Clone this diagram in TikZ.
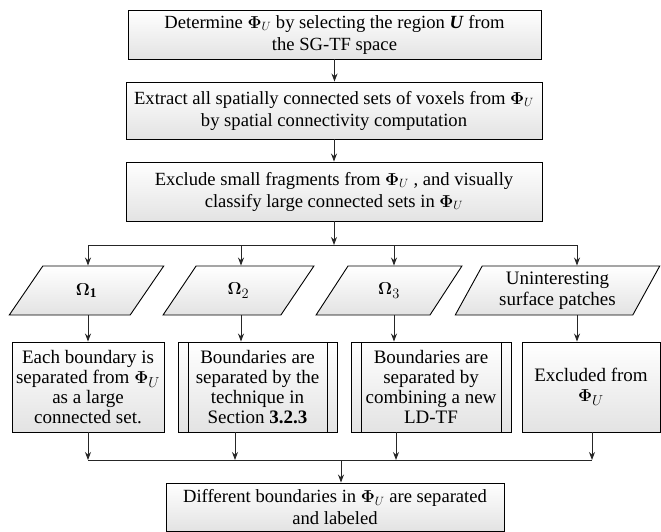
\documentclass[tikz,border=0pt]{standalone}
\usepackage{amsmath}
\usepackage{fontspec}
\setmainfont{Liberation Serif}
\usetikzlibrary{shapes.geometric, arrows.meta}

\tikzset{
    box/.style={rectangle, draw, line width=0.9pt, top color=white, bottom color=gray!22,
        align=center, inner sep=0pt, font=\fontsize{18.6}{22}\selectfont},
    lowbox/.style={box, font=\fontsize{19}{20}\selectfont},
    procbox/.style={lowbox, path picture={
        \draw[-, line width=0.9pt] ([xshift=10pt]path picture bounding box.north west) -- ([xshift=10pt]path picture bounding box.south west);
        \draw[-, line width=0.9pt] ([xshift=-10pt]path picture bounding box.north east) -- ([xshift=-10pt]path picture bounding box.south east);}},
    classbox/.style={trapezium, trapezium left angle=61, trapezium right angle=119, trapezium stretches=true,
        draw, line width=0.9pt, top color=white, bottom color=gray!22, align=center, inner sep=0pt,
        minimum height=49pt, font=\fontsize{19}{21}\selectfont},
    link/.style={line width=0.9pt, black!85}
}
\newcommand{\PhiU}{$\boldsymbol{\Phi}_U$}

\begin{document}
\begin{tikzpicture}[x=1pt, y=-1pt, >={Stealth[length=8pt, width=6pt]}]
    \useasboundingbox (0,0) rectangle (661,532);

    % Top boxes.
    \node[box, minimum width=413pt, minimum height=49pt] (b1) at (334.5,34.5)
        {Determine \PhiU\ by selecting the region \textbf{\textit{U}} from\\ the SG-TF space};
    \node[box, minimum width=416pt, minimum height=57pt] (b2) at (334,110.5)
        {Extract all spatially connected sets of voxels from \PhiU\\ by spatial connectivity computation};
    \node[box, minimum width=416pt, minimum height=59pt] (b3) at (334,191.5)
        {Exclude small fragments from \PhiU\ , and visually\\ classify large connected sets in \PhiU};

    \draw[link, ->] (b1.south) -- (b1.south |- b2.north);
    \draw[link, ->] (b2.south) -- (b2.south |- b3.north);

    % Classes.
    \node[classbox, minimum width=155pt] (o1) at (86.5,290.5) {$\boldsymbol{\Omega}_{\mathbf{1}}$};
    \node[classbox, minimum width=151pt] (o2) at (238.5,290.5) {$\boldsymbol{\Omega}_2$};
    \node[classbox, minimum width=146pt] (o3) at (389,290.5) {$\boldsymbol{\Omega}_3$};
    \node[classbox, minimum width=205pt] (o4) at (557.5,290.5) {Uninteresting\\ surface patches};

    % Branch connections.
    \coordinate (j1) at (334,245);
    \coordinate (i1) at (88,245);
    \coordinate (i2) at (241,245);
    \coordinate (i3) at (394,245);
    \coordinate (i4) at (577,245);
    \draw[link, ->] (b3.south) -- (j1);
    \draw[link] (i1) -- (i4);
    \foreach \n in {1,...,4}
        \draw[link, ->] (i\n) -- (i\n |- o\n.north);

    % Actions.
    \node[lowbox, minimum width=152pt, minimum height=90pt] (c1) at (88,387)
        {Each boundary is\\ separated from \PhiU\\ as a large\\ connected set.};
    \node[procbox, minimum width=159pt, minimum height=90pt] (c2) at (257.5,387)
        {Boundaries are\\ separated by the\\ technique in\\ Section \textbf{3.2.3}};
    \node[procbox, minimum width=160pt, minimum height=90pt] (c3) at (431,387)
        {Boundaries are\\ separated by\\ combining a new\\ LD-TF};
    \node[lowbox, minimum width=138pt, minimum height=90pt] (c4) at (591,387)
        {Excluded from\\ \PhiU};

    \foreach \n in {1,...,4}
        \draw[link, ->] (i\n |- o\n.south) -- (i\n |- c\n.north);

    % Merge connections.
    \coordinate (k1) at (88,460);
    \coordinate (k2) at (235,460);
    \coordinate (k3) at (396,460);
    \coordinate (k4) at (592,460);
    \coordinate (j2) at (341,460);
    \foreach \n in {1,...,4}
        \draw[link, ->] (k\n |- c\n.south) -- (k\n);
    \draw[link] (k1) -- (k4);

    % Result.
    \node[box, minimum width=338pt, minimum height=48pt] (f) at (335,507)
        {Different boundaries in \PhiU\ are separated\\ and labeled};
    \draw[link, ->] (j2) -- (j2 |- f.north);

\end{tikzpicture}
\end{document}
